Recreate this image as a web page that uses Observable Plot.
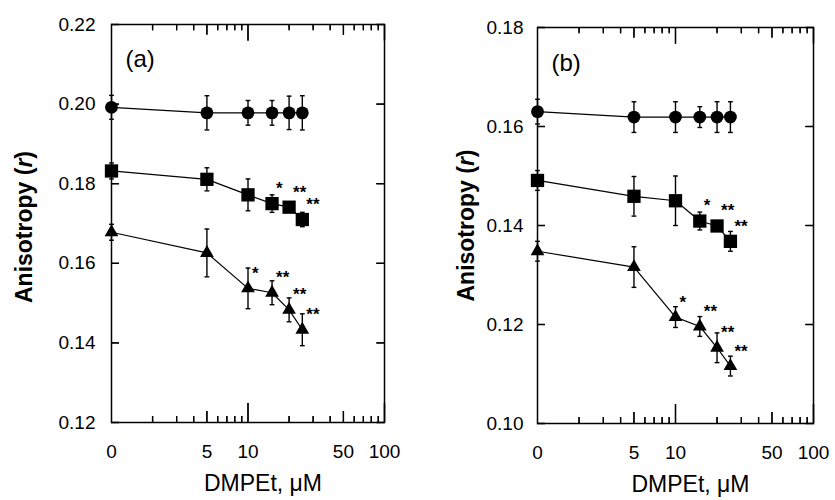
<!DOCTYPE html>
<html><head><meta charset="utf-8">
<script src="https://cdn.jsdelivr.net/npm/d3@7"></script>
<script src="https://cdn.jsdelivr.net/npm/@observablehq/plot@0.6"></script>
<style>
html,body{margin:0;padding:0;background:#fff;}
#chart{position:relative;width:835px;height:500px;background:#fff;}
#chart svg{position:absolute;top:0;overflow:visible;}
</style></head><body><div id="chart"></div>
<script>
// ---------- data ----------
const concentrations = [0, 5, 10, 15, 20, 25];
const seriesNames = ["circle", "square", "triangle"];

// panel (a)
const aCircle      = [0.1992, 0.1978, 0.1978, 0.1978, 0.1978, 0.1978];
const aCircleErr   = [0.0030, 0.0043, 0.0031, 0.0031, 0.0042, 0.0043];
const aSquare      = [0.1832, 0.1811, 0.1772, 0.1750, 0.1741, 0.1710];
const aSquareErr   = [0.0020, 0.0029, 0.0040, 0.0022, 0.0012, 0.0018];
const aTriangle    = [0.1678, 0.1626, 0.1537, 0.1526, 0.1483, 0.1433];
const aTriangleErr = [0.0020, 0.0060, 0.0051, 0.0030, 0.0030, 0.0040];
const aSquareSig   = ["", "", "", "*", "**", "**"];
const aTriangleSig = ["", "", "*", "**", "**", "**"];

// panel (b)
const bCircle      = [0.1630, 0.1619, 0.1619, 0.1619, 0.1619, 0.1619];
const bCircleErr   = [0.0025, 0.0031, 0.0031, 0.0021, 0.0031, 0.0031];
const bSquare      = [0.1491, 0.1459, 0.1450, 0.1409, 0.1399, 0.1368];
const bSquareErr   = [0.0020, 0.0040, 0.0050, 0.0018, 0.0010, 0.0020];
const bTriangle    = [0.1348, 0.1316, 0.1215, 0.1196, 0.1153, 0.1116];
const bTriangleErr = [0.0020, 0.0041, 0.0021, 0.0020, 0.0030, 0.0020];
const bSquareSig   = ["", "", "", "*", "**", "**"];
const bTriangleSig = ["", "", "*", "**", "**", "**"];

// axes
const xTickValues = [0, 5, 10, 50, 100];
const xTickLabels = ["0", "5", "10", "50", "100"];
const xMinorTicks = [2, 3, 4, 6, 7, 8, 9, 20, 30, 40, 60, 70, 80, 90];
const xMidTicks = [5, 50];
const xMajorTicks = [10, 100];
const aYTicks = [0.12, 0.14, 0.16, 0.18, 0.20, 0.22];
const bYTicks = [0.10, 0.12, 0.14, 0.16, 0.18];
const panelLabels = ["(a)", "(b)"];
const xLabel = "DMPEt, \u03BCM";
const yLabel = "Anisotropy (r)";

// ---------- helpers ----------
const xPos = c => (c === 0 ? 1 : c); // "0" drawn at the left end of the log axis
const X_DOMAIN = [1, 100];
const capSymbol = {draw(ctx, s) { const w = Math.sqrt(s / Math.PI); ctx.moveTo(-w, 0); ctx.lineTo(w, 0); }};
const FONT = "'Liberation Sans', Arial, Helvetica, sans-serif";

function buildRows(vals, errs, sigs) {
  const rows = [];
  seriesNames.forEach((s, k) => concentrations.forEach((c, i) => {
    rows.push({series: s, conc: c, x: xPos(c), value: vals[k][i], err: errs[k][i], sig: sigs[k][i]});
  }));
  return rows;
}

function common(o) {
  return {
    width: o.width, height: 500,
    marginLeft: o.ml, marginRight: o.mr, marginTop: o.mt, marginBottom: o.mb,
    x: {type: "log", domain: X_DOMAIN},
    y: {domain: o.yDomain}
  };
}

function mainPlot(o) {
  const rows = buildRows(o.vals, o.errs, o.sigs);
  const tickPos = xTickValues.map(xPos);
  const markerR = {circle: 6.4, square: 7.5, triangle: 5.1};
  const svg = Plot.plot({
    ...common(o),
    style: {fontFamily: FONT, fontSize: "19px", background: "white", color: "black", overflow: "visible"},
    marks: [
      Plot.frame({stroke: "black", strokeWidth: 1.5, fill: "none"}),
      Plot.axisX({ticks: tickPos, tickSize: 0, tickPadding: 21.5, fontSize: 19,
        tickFormat: d => xTickLabels[tickPos.indexOf(d)], label: null}),
      Plot.axisY({ticks: o.yTicks, tickSize: 0, tickPadding: o.tickPad, fontSize: 19,
        tickFormat: d3.format(".2f"), label: null}),
      Plot.line(rows, {x: "x", y: "value", z: "series", stroke: "black", strokeWidth: 1.2}),
      Plot.ruleX(rows, {x: "x", y1: d => d.value - d.err, y2: d => d.value + d.err, stroke: "black", strokeWidth: 1.4}),
      Plot.dot(rows, {x: "x", y: d => d.value + d.err, symbol: capSymbol, r: 2.4, fill: "none", stroke: "black", strokeWidth: 1.4}),
      Plot.dot(rows, {x: "x", y: d => d.value - d.err, symbol: capSymbol, r: 2.4, fill: "none", stroke: "black", strokeWidth: 1.4}),
      ...seriesNames.map(s => Plot.dot(rows.filter(d => d.series === s),
        {x: "x", y: "value", symbol: s, r: markerR[s], fill: "black", stroke: "none"})),
      Plot.text(rows.filter(d => d.sig), {x: "x", y: "value", text: "sig", dx: 4, dy: -15,
        textAnchor: "start", lineAnchor: "middle", fontSize: 17, fontWeight: "bold", fill: "black"}),
      Plot.text([o.label], {text: d => d, frameAnchor: "top-left", dx: 14, dy: o.labDy,
        textAnchor: "start", lineAnchor: "top", fontSize: 24, fill: "black"}),
      Plot.text([xLabel], {text: d => d, frameAnchor: "bottom", dx: 15, dy: 52.5,
        textAnchor: "middle", lineAnchor: "top", fontSize: 23, fill: "black"}),
      Plot.text([yLabel], {text: d => d, frameAnchor: "left", rotate: -90, dx: o.ylabDx, dy: o.ylabDy,
        textAnchor: "middle", lineAnchor: "middle", fontSize: 23, fontWeight: "bold", fill: "black"})
    ]
  });
  svg.querySelectorAll("text").forEach(t => {
    if (t.textContent === yLabel) t.innerHTML = 'Anisotropy (<tspan font-style="italic">r</tspan>)';
  });
  svg.style.left = o.left + "px";
  return svg;
}

// inward ticks via axis marks (negative tick size) on a transparent layer
function tickLayerAxes(o) {
  const blank = () => "";
  const ax = (anchor, ticks, size) => Plot.axisX({anchor, ticks, tickSize: -size, tickPadding: 0,
    tickFormat: blank, label: null, stroke: "black", strokeWidth: 1.3});
  const ay = (anchor, size) => Plot.axisY({anchor, ticks: o.yTicks, tickSize: -size, tickPadding: 0,
    tickFormat: blank, label: null, stroke: "black", strokeWidth: 1.3});
  const svg = Plot.plot({
    ...common(o),
    style: {background: "transparent", overflow: "visible"},
    marks: [
      ax("bottom", xMinorTicks, 6), ax("bottom", xMidTicks, 11), ax("bottom", xMajorTicks, 19),
      ax("top", xMinorTicks, 5.5), ax("top", xMidTicks, 10), ax("top", xMajorTicks, 16),
      ay("left", 8), ay("right", 8)
    ]
  });
  svg.style.left = o.left + "px";
  svg.style.background = "transparent";
  return svg;
}

// inward ticks via short rules on a transparent layer (no axes)
function tickLayerRules(o) {
  const innerW = o.width - o.ml - o.mr;
  const innerH = 500 - o.mt - o.mb;
  const [yLo, yHi] = o.yDomain;
  const yPerPx = (yHi - yLo) / innerH;
  const xFac = len => 10 ** (len * Math.log10(X_DOMAIN[1] / X_DOMAIN[0]) / innerW);
  const tk = {stroke: "black", strokeWidth: 1.3};
  const obj = a => a.map(v => ({v}));
  const xb = (data, len) => Plot.ruleX(obj(data), {x: "v", y1: () => yLo, y2: () => yLo + len * yPerPx, ...tk});
  const xt = (data, len) => Plot.ruleX(obj(data), {x: "v", y1: () => yHi, y2: () => yHi - len * yPerPx, ...tk});
  const svg = Plot.plot({
    ...common(o),
    x: {type: "log", domain: X_DOMAIN, axis: null},
    y: {domain: o.yDomain, axis: null},
    style: {background: "transparent", overflow: "visible"},
    marks: [
      xb(xMinorTicks, 6), xb(xMidTicks, 11), xb(xMajorTicks, 19),
      xt(xMinorTicks, 5.5), xt(xMidTicks, 10), xt(xMajorTicks, 16),
      Plot.ruleY(obj(o.yTicks), {y: "v", x1: () => X_DOMAIN[0], x2: () => X_DOMAIN[0] * xFac(8), ...tk}),
      Plot.ruleY(obj(o.yTicks), {y: "v", x1: () => X_DOMAIN[1] / xFac(8), x2: () => X_DOMAIN[1], ...tk})
    ]
  });
  svg.style.left = o.left + "px";
  svg.style.background = "transparent";
  return svg;
}

const panels = [
  {left: 0, width: 417, ml: 111, mr: 33, mt: 24, mb: 78,
   yDomain: [0.12, 0.22], yTicks: aYTicks, tickPad: 16, labDy: 25.7,
   ylabDx: -86.7, ylabDy: 3.5, label: panelLabels[0],
   vals: [aCircle, aSquare, aTriangle], errs: [aCircleErr, aSquareErr, aTriangleErr],
   sigs: [concentrations.map(() => ""), aSquareSig, aTriangleSig]},
  {left: 417, width: 418, ml: 120, mr: 22, mt: 27, mb: 77,
   yDomain: [0.10, 0.18], yTicks: bYTicks, tickPad: 14, labDy: 26,
   ylabDx: -70.4, ylabDy: 0, label: panelLabels[1],
   vals: [bCircle, bSquare, bTriangle], errs: [bCircleErr, bSquareErr, bTriangleErr],
   sigs: [concentrations.map(() => ""), bSquareSig, bTriangleSig]}
];

const chart = document.getElementById("chart");
panels.forEach(o => chart.appendChild(mainPlot(o)));
panels.forEach(o => {
  try { chart.appendChild(tickLayerRules(o)); } catch (e) { /* keep chart */ }
  try { chart.appendChild(tickLayerAxes(o)); } catch (e) { /* keep chart */ }
});
</script></body></html>
